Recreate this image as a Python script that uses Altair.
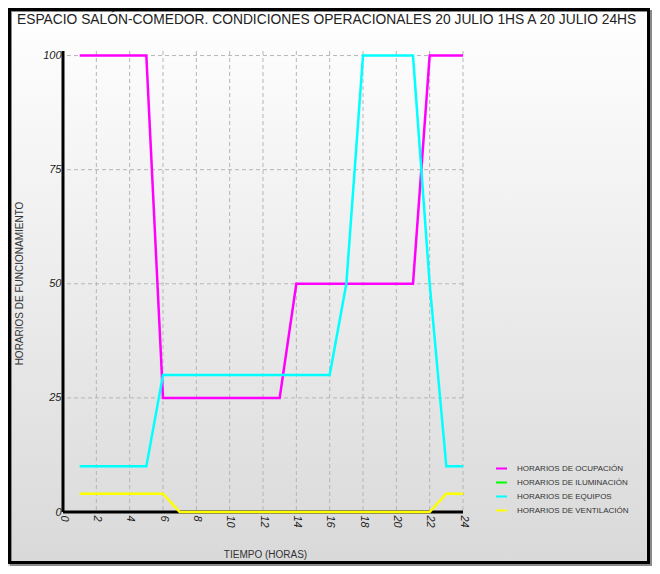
import altair as alt
import pandas as pd

# ---- data ----
hours = list(range(1, 25))
ocupacion = [100, 100, 100, 100, 100, 25, 25, 25, 25, 25, 25, 25, 25,
             50, 50, 50, 50, 50, 50, 50, 50, 100, 100, 100]
equipos = [10, 10, 10, 10, 10, 30, 30, 30, 30, 30, 30, 30, 30, 30, 30, 30,
           50, 100, 100, 100, 100, 50, 10, 10]
ventilacion = [4, 4, 4, 4, 4, 4, 0, 0, 0, 0, 0, 0, 0, 0, 0, 0, 0, 0, 0, 0, 0, 0, 4, 4]

series_names = ["Horarios de Ocupación", "Horarios de Iluminación",
                "Horarios de equipos", "Horarios de ventilación"]
series_colors = ["#ff00ff", "#00ff00", "#00ffff", "#ffff00"]

x_ticks = list(range(0, 25, 2))
y_ticks = [0, 25, 50, 75, 100]
x_grid = list(range(2, 25, 2))
y_grid = [25, 50, 75, 100]
x_domain = [0, 24]
y_domain = [0, 101]

title_text = "ESPACIO SALÓN-COMEDOR. CONDICIONES OPERACIONALES 20 JULIO 1HS A 20 JULIO 24HS"
x_title = "TIEMPO (HORAS)"
y_title = "HORARIOS DE FUNCIONAMIENTO"

# ---- build tables ----
rows = []
for name, vals in [(series_names[0], ocupacion), (series_names[2], equipos),
                   (series_names[3], ventilacion)]:
    for h, v in zip(hours, vals):
        rows.append({"x": h, "y": v, "serie": name})
df = pd.DataFrame(rows)
one = pd.DataFrame({"a": [0]})
xgrid_df = pd.DataFrame({"x": x_grid})
ygrid_df = pd.DataFrame({"y": y_grid})
xdom_df = pd.DataFrame({"x": [x_domain[0]], "x2": [x_domain[1]], "y": [y_domain[0]]})
ydom_df = pd.DataFrame({"x": [x_domain[0]], "y": [y_domain[0]], "y2": [y_domain[1]]})

FONT = "Liberation Sans"
W, H = 400, 461
PAD = {"left": 55, "top": 43, "right": 189, "bottom": 54}

xscale = alt.Scale(domain=x_domain, nice=False, zero=False)
yscale = alt.Scale(domain=y_domain, nice=False)

xaxis = alt.Axis(
    values=x_ticks, grid=False, domain=False, ticks=False,
    labelAngle=90, labelAlign="left", labelBaseline="middle",
    labelFont=FONT, labelFontStyle="italic", labelFontSize=11,
    labelColor="#222", labelPadding=3, labelOverlap=False,
    title=x_title, titleX=202, titleY=42, titleAlign="center",
    titleBaseline="middle", titleFont=FONT, titleFontSize=10,
    titleFontWeight="normal", titleColor="#333", zindex=2)
yaxis = alt.Axis(
    values=y_ticks, grid=False, domain=False, ticks=False,
    labelFont=FONT, labelFontStyle="italic", labelFontSize=11,
    labelColor="#222", labelPadding=2, labelOverlap=False,
    title=y_title, titleX=-44, titleY=232, titleAngle=-90,
    titleAlign="center", titleBaseline="middle", titleFont=FONT,
    titleFontSize=10, titleFontWeight="normal", titleColor="#333",
    zindex=2)

X = lambda f="x": alt.X(f"{f}:Q", scale=xscale, axis=xaxis)
Y = lambda f="y": alt.Y(f"{f}:Q", scale=yscale, axis=yaxis)

grad = alt.Gradient(
    gradient="linear",
    stops=[alt.GradientStop(color="#ffffff", offset=0),
           alt.GradientStop(color="#d9d9d9", offset=1)],
    x1=0, x2=0, y1=0, y2=1,
)

bg = alt.Chart(one).mark_rect(color=grad).encode(
    x=alt.value(-PAD["left"]), x2=alt.value(W + PAD["right"]),
    y=alt.value(-PAD["top"]), y2=alt.value(H + PAD["bottom"]),
)

shadow = alt.Chart(one).mark_rect(filled=False, stroke="#8a8a8a", strokeWidth=2).encode(
    x=alt.value(-PAD["left"] + 3), x2=alt.value(W + PAD["right"] - 1),
    y=alt.value(-PAD["top"] + 3), y2=alt.value(H + PAD["bottom"] - 1),
)
frame = alt.Chart(one).mark_rect(filled=False, stroke="#000000", strokeWidth=3).encode(
    x=alt.value(-PAD["left"] + 1.5), x2=alt.value(W + PAD["right"] - 3.5),
    y=alt.value(-PAD["top"] + 1.5), y2=alt.value(H + PAD["bottom"] - 3.5),
)

xgrid = alt.Chart(xgrid_df).mark_rule(
    color="#b5b5b5", strokeDash=[4, 3], strokeWidth=1
).encode(x=X())

ygrid = alt.Chart(ygrid_df).mark_rule(
    color="#b5b5b5", strokeDash=[4, 3], strokeWidth=1
).encode(y=Y())

xdom = alt.Chart(xdom_df).mark_rule(color="#000000", strokeWidth=3).encode(
    x=X(), x2="x2:Q", y=Y()
)
ydom = alt.Chart(ydom_df).mark_rule(color="#000000", strokeWidth=3).encode(
    x=X(), y=Y(), y2="y2:Q"
)

lines = alt.Chart(df).mark_line(strokeWidth=2.5).encode(
    x=X(),
    y=Y(),
    color=alt.Color("serie:N", scale=alt.Scale(domain=series_names, range=series_colors),
                    legend=alt.Legend(
                        orient="none", legendX=432, legendY=411, title=None,
                        symbolType="stroke", symbolSize=121, symbolStrokeWidth=2,
                        labelFont=FONT, labelFontSize=8, labelColor="#333",
                        labelExpr="upper(datum.label)", labelOffset=9,
                        rowPadding=3)),
    detail="serie:N",
)

chart = alt.layer(bg, shadow, frame, xgrid, ygrid, xdom, ydom, lines).properties(
    width=W, height=H,
    autosize=alt.AutoSizeParams(type="none"),
    padding=PAD,
    background="#ffffff",
    title=alt.TitleParams(
        text=title_text, anchor="start", frame="group", dx=-46, offset=-30,
        baseline="alphabetic", font=FONT, fontSize=13.8, fontWeight="normal",
        color="#222"),
).configure_view(stroke=None)

chart.save("out.html", embed_options={"renderer": "svg", "actions": False})
